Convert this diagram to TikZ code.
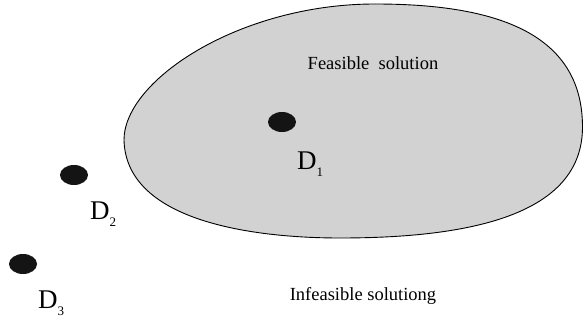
\documentclass[tikz,border=0pt]{standalone}
\usepackage{fontspec}
\setmainfont{Liberation Serif}
\usetikzlibrary{shapes.geometric}
\definecolor{feas}{RGB}{210,210,210}
\newcommand{\subidx}[1]{\raisebox{-7pt}{\fontsize{13}{14}\selectfont #1}}
\tikzset{
  dot/.style={ellipse, fill=black!92, minimum width=28pt, minimum height=20pt, inner sep=0pt},
  dlabel/.style={font=\fontsize{27}{30}\selectfont, inner sep=0pt},
  region/.style={font=\fontsize{18.5}{20}\selectfont, inner sep=0pt}
}
\begin{document}
\begin{tikzpicture}[x=1pt,y=-1pt]
\useasboundingbox (0,0) rectangle (583,320);
\coordinate (L) at (124,140);
\coordinate (T) at (375,4);
\coordinate (R) at (582.5,127);
\coordinate (B) at (340,238);
\draw[fill=feas, line width=0.9pt]
  (L) .. controls (124,80) and (240,4) .. (T)
      .. controls (490,4) and (582.5,30) .. (R)
      .. controls (582.5,215) and (470,238) .. (B)
      .. controls (255,238) and (126,222) .. (L) -- cycle;
\node[region] (feas) at (373,63) {Feasible\ \ solution};
\node[region] (infeas) at (363,296) {Infeasible solutiong};
\node[dot] (d1) at (282,122) {};
\node[dot] (d2) at (74,175) {};
\node[dot] (d3) at (23,264) {};
\node[dlabel, anchor=base west] (l1) at (297,170) {D\subidx{1}};
\node[dlabel, anchor=base west] (l2) at (90,220) {D\subidx{2}};
\node[dlabel, anchor=base west] (l3) at (38,308) {D\subidx{3}};
\end{tikzpicture}
\end{document}
